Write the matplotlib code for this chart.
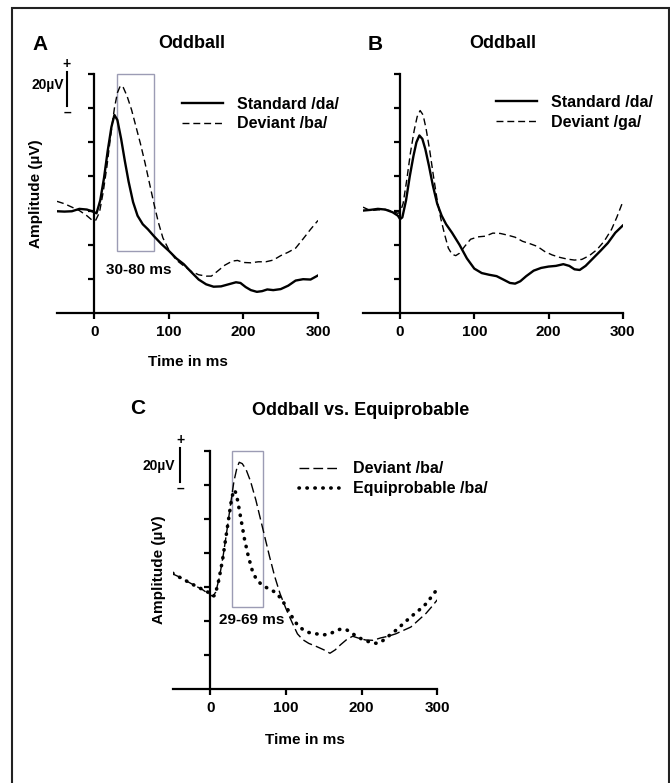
import matplotlib
matplotlib.use("Agg")
import matplotlib.pyplot as plt
from matplotlib.patches import Rectangle

plt.rcParams['font.family'] = ['Liberation Sans', 'DejaVu Sans']
plt.rcParams['font.weight'] = 'bold'

W, H = 670, 783

# ---- data (y in scale units, 1 unit = 20 uV, baseline of plot = 0) ----
a_std_t = [-50, -40, -30, -20, -10, -3, 3, 8, 13, 18, 23, 27, 31, 36, 41, 46, 52, 58, 65, 72, 80,
           90, 100, 110, 120, 130, 140, 150, 160, 170, 180, 190, 196, 203, 210, 218, 225, 232, 240,
           250, 260, 270, 280, 290, 300]
a_std_v = [2.98, 2.97, 2.98, 3.05, 3.03, 2.98, 2.92, 3.3, 3.95, 4.75, 5.45, 5.8, 5.65, 5.1, 4.45,
           3.85, 3.25, 2.85, 2.6, 2.45, 2.25, 2.02, 1.82, 1.6, 1.43, 1.2, 0.98, 0.84, 0.77, 0.78,
           0.84, 0.9, 0.88, 0.76, 0.67, 0.62, 0.64, 0.69, 0.67, 0.7, 0.8, 0.95, 0.99, 0.98, 1.1]
a_dev_t = [-50, -40, -30, -20, -10, -3, 2, 7, 12, 17, 22, 27, 31, 35, 39, 44, 50, 56, 62, 68, 74,
           80, 86, 92, 100, 110, 120, 130, 140, 150, 157, 165, 175, 185, 192, 200, 210, 220, 230,
           240, 250, 260, 270, 280, 290, 300]
a_dev_v = [3.27, 3.2, 3.1, 3.0, 2.85, 2.72, 2.72, 2.95, 3.55, 4.3, 5.2, 6.0, 6.45, 6.66, 6.6, 6.35,
           5.95, 5.45, 4.95, 4.4, 3.8, 3.2, 2.65, 2.2, 1.85, 1.55, 1.38, 1.22, 1.12, 1.08, 1.08,
           1.22, 1.4, 1.52, 1.54, 1.48, 1.47, 1.5, 1.5, 1.55, 1.68, 1.78, 1.9, 2.17, 2.45, 2.71]

b_std_t = [-50, -40, -30, -20, -10, -3, 0, 3, 8, 13, 18, 22, 26, 30, 34, 39, 44, 50, 56, 62, 70,
           80, 90, 100, 110, 120, 130, 140, 148, 155, 162, 170, 180, 190, 200, 210, 220, 228, 235,
           242, 250, 260, 270, 280, 290, 300]
b_std_v = [3.0, 3.02, 3.05, 3.03, 2.95, 2.85, 2.75, 2.8, 3.3, 4.0, 4.6, 5.0, 5.2, 5.1, 4.8, 4.3,
           3.75, 3.2, 2.85, 2.6, 2.35, 2.0, 1.6, 1.3, 1.17, 1.12, 1.08, 0.97, 0.88, 0.86, 0.93,
           1.08, 1.24, 1.32, 1.36, 1.38, 1.43, 1.38, 1.28, 1.26, 1.38, 1.6, 1.82, 2.05, 2.35, 2.56]
b_dev_t = [-50, -40, -30, -20, -10, -3, 0, 4, 9, 14, 19, 23, 27, 31, 35, 40, 45, 50, 55, 60, 65,
           70, 75, 80, 87, 95, 105, 115, 125, 135, 145, 155, 165, 175, 185, 195, 205, 215, 225,
           235, 245, 255, 265, 275, 285, 292, 300]
b_dev_v = [3.1, 3.0, 3.02, 3.03, 2.98, 2.92, 2.95, 3.2, 3.9, 4.7, 5.35, 5.75, 5.93, 5.8, 5.4, 4.75,
           4.0, 3.3, 2.75, 2.3, 1.9, 1.72, 1.68, 1.75, 1.95, 2.16, 2.23, 2.25, 2.34, 2.33, 2.28,
           2.22, 2.1, 2.03, 1.95, 1.8, 1.7, 1.63, 1.58, 1.55, 1.57, 1.68, 1.85, 2.1, 2.45, 2.8, 3.25]

c_dev_t = [-50, -40, -30, -20, -10, -3, 3, 7, 12, 17, 22, 27, 31, 35, 38, 42, 47, 53, 60, 66, 72,
           78, 85, 92, 100, 108, 115, 122, 130, 140, 150, 158, 165, 172, 180, 188, 195, 205, 215,
           225, 235, 245, 255, 265, 275, 285, 292, 300]
c_dev_v = [3.38, 3.28, 3.15, 3.03, 2.91, 2.8, 2.72, 2.85, 3.3, 3.95, 4.7, 5.5, 6.1, 6.5, 6.66, 6.62,
           6.45, 6.1, 5.55, 5.0, 4.45, 3.9, 3.3, 2.8, 2.35, 1.95, 1.62, 1.45, 1.34, 1.25, 1.15,
           1.05, 1.15, 1.3, 1.45, 1.55, 1.5, 1.44, 1.43, 1.5, 1.55, 1.62, 1.72, 1.82, 2.02, 2.22,
           2.4, 2.62]
c_equ_t = [-50, -40, -30, -20, -10, -3, 2, 6, 11, 16, 21, 25, 28, 31, 34, 37, 41, 45, 50, 55, 60,
           66, 72, 80, 88, 95, 100, 107, 115, 122, 130, 140, 150, 158, 165, 172, 180, 187, 195,
           205, 215, 222, 230, 238, 245, 255, 265, 275, 285, 292, 300]
c_equ_v = [3.4, 3.27, 3.15, 3.03, 2.92, 2.84, 2.72, 2.75, 3.2, 3.8, 4.55, 5.15, 5.6, 5.85, 5.75,
           5.4, 4.9, 4.4, 3.9, 3.5, 3.25, 3.1, 3.0, 2.92, 2.8, 2.6, 2.42, 2.15, 1.88, 1.75, 1.66,
           1.62, 1.59, 1.62, 1.7, 1.76, 1.74, 1.64, 1.52, 1.42, 1.35, 1.34, 1.45, 1.6, 1.72, 1.92,
           2.12, 2.3, 2.5, 2.7, 2.94]

win_a = (30, 80)
win_c = (29, 69)
x_ticks = [0, 100, 200, 300]


def px_ax(l, r, b, t):
    return [l / W, 1 - b / H, (r - l) / W, (b - t) / H]


def setup(ax, xlab_y, ylab_x):
    ax.set_xlim(-50, 300)
    ax.set_ylim(0, 7)
    for s in ['top', 'right']:
        ax.spines[s].set_visible(False)
    ax.spines['left'].set_position(('data', 0))
    for s in ['left', 'bottom']:
        ax.spines[s].set_linewidth(1.6)
    ax.set_xticks(x_ticks)
    ax.set_yticks(range(1, 8))
    ax.set_yticklabels([])
    ax.tick_params(axis='both', direction='out', length=4, width=1.6, labelsize=11, pad=4.5)
    ax.set_xlabel('Time in ms', fontsize=11, fontweight='bold')
    ax.xaxis.set_label_coords(0.5, xlab_y)
    ax.xaxis.label.set_verticalalignment('center')
    ax.set_ylabel('Amplitude (µV)', fontsize=11, fontweight='bold')
    ax.yaxis.set_label_coords(ylab_x, 0.5)
    ax.yaxis.label.set_verticalalignment('center')


def scale_bar(ax, x, tx, ty):
    ax.plot([x, x], [6.07, 7.07], color='black', lw=1.5, clip_on=False)
    ax.text(x, 7.3, '+', ha='center', va='center', fontsize=10, clip_on=False)
    ax.text(x, 5.88, '\u2013', ha='center', va='center', fontsize=10, clip_on=False)
    ax.text(tx, ty, '20µV', ha='right', va='center', fontsize=10, clip_on=False)


def window_box(ax, win, low, lab_y, label):
    ax.add_patch(Rectangle((win[0], low), win[1] - win[0], 7 - low, fill=False,
                           edgecolor='#9c9cb4', lw=1.0, clip_on=False))
    ax.text((win[0] + win[1]) / 2 + 5, lab_y, label, ha='center', va='center', fontsize=11)


fig = plt.figure(figsize=(W / 100, H / 100), dpi=100)

# ---- panel A ----
axA = fig.add_axes(px_ax(57, 318, 313, 74))
setup(axA, -0.205, -0.08)
axA.plot(a_std_t, a_std_v, color='black', lw=1.7, label='Standard /da/')
axA.plot(a_dev_t, a_dev_v, color='black', lw=1.0, dashes=(5, 2.8), label='Deviant /ba/')
window_box(axA, win_a, 1.81, 1.25, '30-80 ms')
scale_bar(axA, -36.6, -40.5, 6.69)
axA.legend(loc='upper left', bbox_to_anchor=(0.478, 0.905), frameon=False, fontsize=11.5,
           handlelength=2.6, handletextpad=0.85, labelspacing=0.3, borderpad=0, borderaxespad=0)

# ---- panel B ----
axB = fig.add_axes(px_ax(363, 622.7, 313, 74))
setup(axB, -0.205, -0.084)
axB.set_ylabel('')
axB.set_xlabel('')
axB.plot(b_std_t, b_std_v, color='black', lw=1.7, label='Standard /da/')
axB.plot(b_dev_t, b_dev_v, color='black', lw=1.0, dashes=(5, 2.8), label='Deviant /ga/')
axB.legend(loc='upper left', bbox_to_anchor=(0.512, 0.912), frameon=False, fontsize=11.5,
           handlelength=2.6, handletextpad=0.85, labelspacing=0.3, borderpad=0, borderaxespad=0)

# ---- panel C ----
axC = fig.add_axes(px_ax(172.7, 437.3, 689, 450.7))
setup(axC, -0.214, -0.05)
axC.plot(c_dev_t, c_dev_v, color='black', lw=1.0, dashes=(7, 3), label='Deviant /ba/')
axC.plot(c_equ_t, c_equ_v, color='black', lw=2.6, linestyle=(0, (0.1, 2.1)),
         dash_capstyle='round', label='Equiprobable /ba/')
window_box(axC, win_c, 2.42, 2.03, '29-69 ms')
scale_bar(axC, -39.8, -46.4, 6.56)
axC.legend(loc='upper left', bbox_to_anchor=(0.478, 0.955), frameon=False, fontsize=11.5,
           handlelength=2.5, handletextpad=0.85, labelspacing=0.3, borderpad=0, borderaxespad=0)

# ---- panel letters and titles ----
def ftext(x, y, s, **kw):
    fig.text(x / W, 1 - y / H, s, va='center', **kw)

ftext(40, 44, 'A', ha='center', fontsize=15)
ftext(375, 44, 'B', ha='center', fontsize=15)
ftext(138, 409, 'C', ha='center', fontsize=15)
ftext(192, 43, 'Oddball', ha='center', fontsize=13)
ftext(503, 43, 'Oddball', ha='center', fontsize=13)
ftext(361, 410, 'Oddball vs. Equiprobable', ha='center', fontsize=13)

# outer frame
fig.patches.append(Rectangle((12 / W, -0.01), 657 / W, 1.01 - 8 / H, transform=fig.transFigure,
                             fill=False, edgecolor='#222222', lw=1.5))

fig.savefig('out.png', dpi=100)
